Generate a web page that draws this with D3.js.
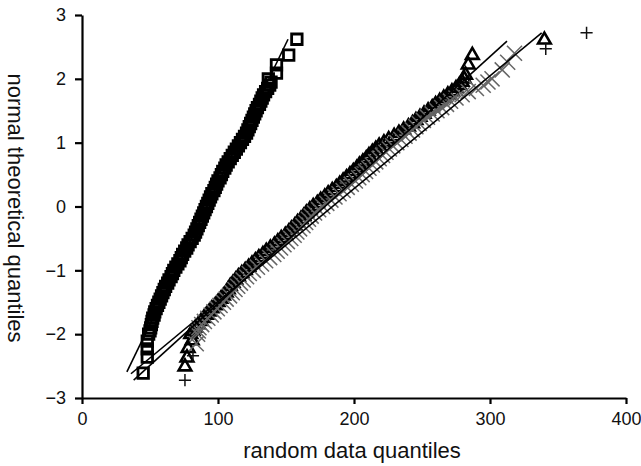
<!DOCTYPE html>
<html>
<head>
<meta charset="utf-8">
<script src="https://cdn.jsdelivr.net/npm/d3@7"></script>
<style>
body { margin: 0; background: #fff; }
svg text { font-family: 'Liberation Sans', Arial, sans-serif; fill: #111; }
</style>
</head>
<body>
<svg id="chart" width="641" height="466"></svg>
<script>
// normal theoretical quantiles shared by the dense part of every series
const theoQ = [
    -2, -1.95, -1.9, -1.85, -1.8, -1.75, -1.7, -1.65, -1.6, -1.55,
    -1.5, -1.45, -1.4, -1.35, -1.3, -1.25, -1.2, -1.15, -1.1, -1.05,
    -1, -0.95, -0.9, -0.85, -0.8, -0.75, -0.7, -0.65, -0.6, -0.55,
    -0.5, -0.45, -0.4, -0.35, -0.3, -0.25, -0.2, -0.15, -0.1, -0.05,
    0, 0.05, 0.1, 0.15, 0.2, 0.25, 0.3, 0.35, 0.4, 0.45,
    0.5, 0.55, 0.6, 0.65, 0.7, 0.75, 0.8, 0.85, 0.9, 0.95,
    1, 1.05, 1.1, 1.15, 1.2, 1.25, 1.3, 1.35, 1.4, 1.45,
    1.5, 1.55, 1.6, 1.65, 1.7, 1.75, 1.8, 1.85, 1.9, 1.95,
    2
];

// random data quantiles, one per theoQ entry
const squareX = [
    49, 50, 50.5, 51, 51.5, 52, 53, 53.5, 54.5, 55.5,
    56.5, 57.5, 58.5, 59.5, 60.5, 61.5, 63, 64, 65.5, 66.5,
    67.5, 69, 70.5, 72, 73, 74, 75.5, 77, 78, 79.5,
    81, 82.5, 83.5, 84.5, 85.5, 86.5, 87.5, 88.5, 89.5, 90.5,
    91.5, 92.5, 93.5, 94.5, 95.5, 97, 98, 99, 100, 101.5,
    102.5, 103.5, 105, 106, 107.5, 109, 110.5, 112, 113.5, 115,
    116.5, 118, 119.5, 121, 122, 123, 124, 125, 126, 127,
    128, 129, 130.5, 131.5, 132.5, 133.5, 135, 136.5, 138, 139,
    137
];

const triangleX = [
    80, 81.5, 83.5, 85.5, 87.5, 89.5, 91.5, 93.5, 95.5, 98,
    100, 102, 104, 106, 107.5, 109, 111, 113, 115, 117.5,
    120, 122.5, 125, 127.5, 130, 133, 135.5, 138.5, 141.5, 144,
    146.5, 149.5, 152, 154, 156.5, 158.5, 161, 163, 165, 167.5,
    170, 173, 175.5, 178.5, 181, 184, 187, 189.5, 192, 194.5,
    197, 199.5, 202, 204, 206.5, 209, 211, 213.5, 216, 218.5,
    222, 225.5, 229.5, 233, 236.5, 240, 243, 245.5, 248.5, 251.5,
    254.5, 257.5, 260, 263, 266, 269, 272, 275, 277.5, 279.5,
    281
];

const crossX = [
    85, 85.5, 86, 88, 90, 92.5, 95, 97, 99.5, 101.5,
    104, 106, 108.5, 110.5, 112.5, 114.5, 116.5, 118.5, 121, 123,
    126, 129, 132, 135, 138, 141, 143.5, 146, 148.5, 151,
    153.5, 156, 158, 160, 162.5, 164.5, 166.5, 168.5, 171, 174,
    177, 180, 183, 186, 189, 192, 195, 198, 201, 203.5,
    206, 208.5, 211, 213.5, 216, 218.5, 221, 223.5, 226, 228.5,
    231.5, 234.5, 237.5, 240.5, 243, 245.5, 248, 251, 254, 257.5,
    261, 264.5, 268, 271, 275, 279.5, 284, 290, 295, 298.5,
    301.5
];

// sparse extreme points, [data quantile, theoretical quantile]
const squareTail = [[48, -2.11], [48, -2.23], [48, -2.36], [45, -2.61],
    [143, 2.09], [143, 2.22], [152, 2.37], [158, 2.62]];
const triangleTail = [[75.7, -2.51], [77.2, -2.37], [78, -2.22], [81, -2.1],
    [282, 2.06], [284, 2.22], [287, 2.37], [340, 2.61]];
const crossTail = [[84, -2.15], [309, 2.14], [313, 2.26], [318, 2.4]];
const plusPoints = [[75.7, -2.72], [81.6, -2.34], [341, 2.47], [371, 2.72]];

// fitted reference lines, [x1, y1, x2, y2]
const fitLines = [
    [33, -2.59, 151.5, 2.62],
    [38, -2.72, 312.5, 2.59],
    [36, -2.62, 338, 2.72]
];

const xTicks = [0, 100, 200, 300, 400];
const yTicks = [-3, -2, -1, 0, 1, 2, 3];

const svg = d3.select('#chart');

const x = d3.scaleLinear().domain([0, 400]).range([82, 626]),
    y = d3.scaleLinear().domain([-3, 3]).range([398, 15]);

function toPoints(xs, tail) {
    return theoQ.map(function (q, i) {
        return { x: xs[i], y: q };
    }).concat(tail.map(function (p) {
        return { x: p[0], y: p[1] };
    }));
}

function drawSeries(points, type, size, stroke, width) {
    svg.append('g')
        .selectAll('path')
        .data(points)
        .enter()
        .append('path')
        .attr('d', d3.symbol().type(type).size(size))
        .attr('transform', function (d) {
            return 'translate(' + x(d.x) + ',' + y(d.y) + ')';
        })
        .attr('fill', 'none')
        .attr('stroke', stroke)
        .attr('stroke-width', width);
}

drawSeries(toPoints(squareX, squareTail), d3.symbolSquare2, 140, '#000', 2.8);
drawSeries(toPoints(triangleX, triangleTail), d3.symbolTriangle2, 115, '#000', 2.6);
drawSeries(toPoints(crossX, crossTail), d3.symbolTimes, 150, '#666', 1.5);
drawSeries(plusPoints.map(function (p) { return { x: p[0], y: p[1] }; }), d3.symbolPlus, 50, '#111', 1.5);

svg.append('g')
    .selectAll('line')
    .data(fitLines)
    .enter()
    .append('line')
    .attr('x1', function (d) { return x(d[0]); })
    .attr('y1', function (d) { return y(d[1]); })
    .attr('x2', function (d) { return x(d[2]); })
    .attr('y2', function (d) { return y(d[3]); })
    .attr('stroke', '#000')
    .attr('stroke-width', 1.6);

const xAxis = svg.append('g')
    .attr('transform', 'translate(0,398)')
    .call(d3.axisBottom(x).tickValues(xTicks).tickFormat(d3.format('d'))
        .tickSize(6).tickSizeOuter(0).tickPadding(8));

const yAxis = svg.append('g')
    .attr('transform', 'translate(82,0)')
    .call(d3.axisLeft(y).tickValues(yTicks).tickFormat(d3.format('d'))
        .tickSize(7).tickSizeOuter(0).tickPadding(9));

[xAxis, yAxis].forEach(function (g) {
    g.select('.domain').attr('stroke', '#000').attr('stroke-width', 2.2);
    g.selectAll('.tick line').attr('stroke', '#000').attr('stroke-width', 2.2);
    g.selectAll('.tick text')
        .attr('fill', '#111')
        .attr('font-family', "'Liberation Sans', Arial, sans-serif")
        .attr('font-size', 18);
});

svg.append('text')
    .text('random data quantiles')
    .attr('x', 352)
    .attr('y', 458)
    .attr('text-anchor', 'middle')
    .attr('font-size', 22);

svg.append('text')
    .text('normal theoretical quantiles')
    .attr('transform', 'translate(8,208) rotate(90)')
    .attr('text-anchor', 'middle')
    .attr('font-size', 22);
</script>
</body>
</html>
